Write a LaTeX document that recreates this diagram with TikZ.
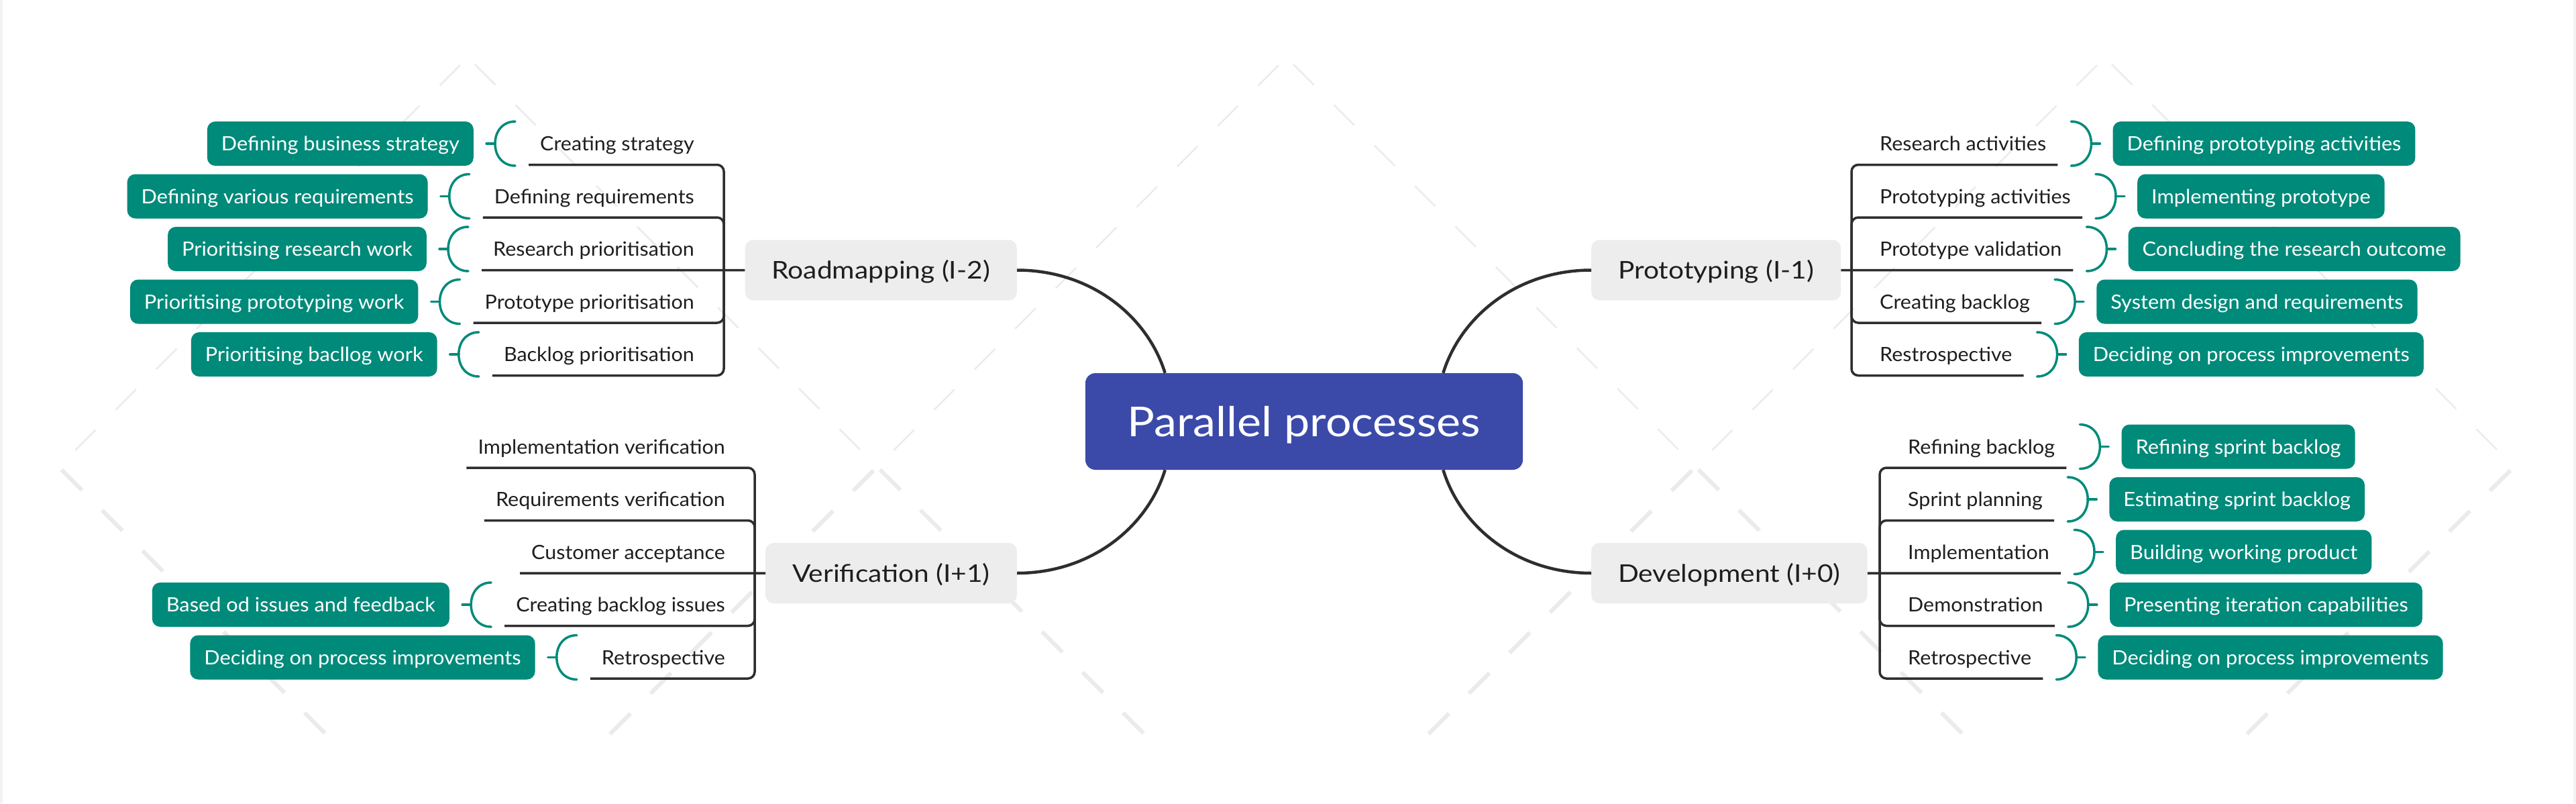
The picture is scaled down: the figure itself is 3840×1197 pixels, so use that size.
\documentclass[tikz,border=0pt]{standalone}
\usepackage{fontspec}
\setmainfont{Lato}
\newfontfamily\labfont[FakeStretch=1.04]{Lato}
\newfontfamily\tagfont[FakeStretch=1.05]{Lato}
\newfontfamily\topicfont[FakeStretch=1.12]{Lato}
\newfontfamily\centfont[FakeStretch=1.11]{Lato}
\definecolor{teal1}{HTML}{008A7A}
\definecolor{nodegray}{HTML}{EDEDED}
\definecolor{blue1}{HTML}{3B4AA9}
\definecolor{ink}{HTML}{1E1E1E}
\definecolor{linec}{HTML}{2E2E2E}
\definecolor{patc}{HTML}{EAEBEC}
\definecolor{edgec}{HTML}{F2F2F2}
\tikzset{
 lab/.style={font=\labfont\fontsize{29.3}{35}\selectfont, text=ink, inner xsep=17pt, inner ysep=0pt, minimum height=63pt, text height=21pt, text depth=0pt},
 tag/.style={font=\tagfont\fontsize{29.3}{35}\selectfont, text=white, fill=teal1, rounded corners=12pt, inner xsep=21pt, inner ysep=0pt, minimum height=66pt, text height=21pt, text depth=0pt},
 topic/.style={font=\topicfont\fontsize{36.3}{44}\selectfont, text=ink, fill=nodegray, rounded corners=12pt, inner xsep=40pt, inner ysep=0pt, minimum height=90pt, text height=26pt, text depth=0pt},
 central/.style={font=\centfont\fontsize{61.4}{74}\selectfont, text=white, fill=blue1, rounded corners=15pt, inner xsep=63pt, inner ysep=0pt, minimum height=144pt, text height=44pt, text depth=0pt},
 ln/.style={draw=linec, line width=3.5pt},
 conn/.style={draw=linec, line width=4.5pt},
 brk/.style={draw=teal1, line width=3.5pt, line cap=round},
 pat/.style={draw=patc, dash pattern=on 43pt off 42.4pt},
}
% left child: name, spine x, y, parent y, text
\newcommand\lchild[5]{%
  \node[lab, anchor=east] (#1) at (#2-27,#3) {#5};
  \draw[ln, rounded corners=10pt] (#2,#4) -- (#2,#3+31.5) -- (#1.south west);}
\newcommand\rchild[5]{%
  \node[lab, anchor=west] (#1) at (#2+25,#3) {#5};
  \draw[ln, rounded corners=10pt] (#2,#4) -- (#2,#3+31.5) -- (#1.south east);}
\newcommand\ltag[2]{%
  \node[tag, anchor=east] (#1t) at ([xshift=-82pt]#1.west) {#2};
  \draw[brk] ([xshift=-20pt]#1.west) ++(0,-33) .. controls +(-18,0) and +(0,-19) .. ++(-30,33) .. controls +(0,19) and +(-18,0) .. ++(30,33);
  \draw[brk] ([xshift=-50pt]#1.west) -- ([xshift=-63pt]#1.west);}
\newcommand\rtag[2]{%
  \node[tag, anchor=west] (#1t) at ([xshift=82pt]#1.east) {#2};
  \draw[brk] ([xshift=20pt]#1.east) ++(0,-33) .. controls +(18,0) and +(0,-19) .. ++(30,33) .. controls +(0,19) and +(18,0) .. ++(-30,33);
  \draw[brk] ([xshift=50pt]#1.east) -- ([xshift=63pt]#1.east);}
\begin{document}
\begin{tikzpicture}[x=1pt,y=-1pt]
\useasboundingbox (0,0) rectangle (3840,1197);
\fill[white] (0,0) rectangle (3840,1197);
\fill[edgec] (0,0) rectangle (4,1197);
\fill[edgec] (3836,0) rectangle (3840,1197);
% background lattice
\begin{scope}
\clip (88,86) rectangle (3748,695.5);
\foreach \c in {783,2003,3223,4443} \draw[pat, line width=2.5pt, dash phase=69.8pt] (\c-86,86) -- (\c-1108,1108);
\foreach \c in {-608,612,1832,3052} \draw[pat, line width=2.5pt, dash phase=71.4pt] (\c+86,86) -- (\c+1108,1108);
\end{scope}
\begin{scope}
\clip (88,695.5) rectangle (3748,1108);
\foreach \c in {783,2003,3223,4443} \draw[pat, line width=6pt, dash phase=69.8pt] (\c-86,86) -- (\c-1108,1108);
\foreach \c in {-608,612,1832,3052} \draw[pat, line width=6pt, dash phase=71.4pt] (\c+86,86) -- (\c+1108,1108);
\end{scope}
% central and topics
\node[central] (c) at (1944,628) {Parallel processes};
\node[topic, anchor=east] (rm) at (1516,402.5) {Roadmapping (I-2)};
\node[topic, anchor=west] (pt) at (2372,402.5) {Prototyping (I-1)};
\node[topic, anchor=east] (vf) at (1516,854) {Verification (I+1)};
\node[topic, anchor=west] (dv) at (2372,854) {Development (I+0)};
\draw[conn] (rm.east) .. controls (1625,402.5) and (1710,470) .. ([xshift=119pt]c.north west);
\draw[conn] (pt.west) .. controls (2263,402.5) and (2178,470) .. ([xshift=-119pt]c.north east);
\draw[conn] (vf.east) .. controls (1625,854) and (1710,786.5) .. ([xshift=119pt]c.south west);
\draw[conn] (dv.west) .. controls (2263,854) and (2178,786.5) .. ([xshift=-119pt]c.south east);
% Roadmapping
\lchild{r1}{1079}{214}{402.5}{Creating strategy}
\lchild{r2}{1079}{292.5}{402.5}{Defining requirements}
\node[lab, anchor=east] (r3) at (1052,371) {Research prioritisation};
\draw[ln] (rm.west) -- (r3.south west);
\lchild{r4}{1079}{449.5}{402.5}{Prototype prioritisation}
\lchild{r5}{1079}{528}{402.5}{Backlog prioritisation}
\ltag{r1}{Defining business strategy}
\ltag{r2}{Defining various requirements}
\ltag{r3}{Prioritising research work}
\ltag{r4}{Prioritising prototyping work}
\ltag{r5}{Prioritising bacllog work}
% Prototyping
\rchild{p1}{2760}{214}{402.5}{Research activities}
\rchild{p2}{2760}{292.5}{402.5}{Prototyping activities}
\node[lab, anchor=west] (p3) at (2785,371) {Prototype validation};
\draw[ln] (pt.east) -- (p3.south east);
\rchild{p4}{2760}{449.5}{402.5}{Creating backlog}
\rchild{p5}{2760}{528}{402.5}{Restrospective}
\rtag{p1}{Defining prototyping activities}
\rtag{p2}{Implementing prototype}
\rtag{p3}{Concluding the research outcome}
\rtag{p4}{System design and requirements}
\rtag{p5}{Deciding on process improvements}
% Verification
\lchild{v1}{1125}{665.5}{854}{Implementation verification}
\lchild{v2}{1125}{744}{854}{Requirements verification}
\node[lab, anchor=east] (v3) at (1098,822.5) {Customer acceptance};
\draw[ln] (vf.west) -- (v3.south west);
\lchild{v4}{1125}{901}{854}{Creating backlog issues}
\lchild{v5}{1125}{979.5}{854}{Retrospective}
\ltag{v4}{Based od issues and feedback}
\ltag{v5}{Deciding on process improvements}
% Development
\rchild{d1}{2802}{665.5}{854}{Refining backlog}
\rchild{d2}{2802}{744}{854}{Sprint planning}
\node[lab, anchor=west] (d3) at (2827,822.5) {Implementation};
\draw[ln] (dv.east) -- (d3.south east);
\rchild{d4}{2802}{901}{854}{Demonstration}
\rchild{d5}{2802}{979.5}{854}{Retrospective}
\rtag{d1}{Refining sprint backlog}
\rtag{d2}{Estimating sprint backlog}
\rtag{d3}{Building working product}
\rtag{d4}{Presenting iteration capabilities}
\rtag{d5}{Deciding on process improvements}
\end{tikzpicture}
\end{document}
